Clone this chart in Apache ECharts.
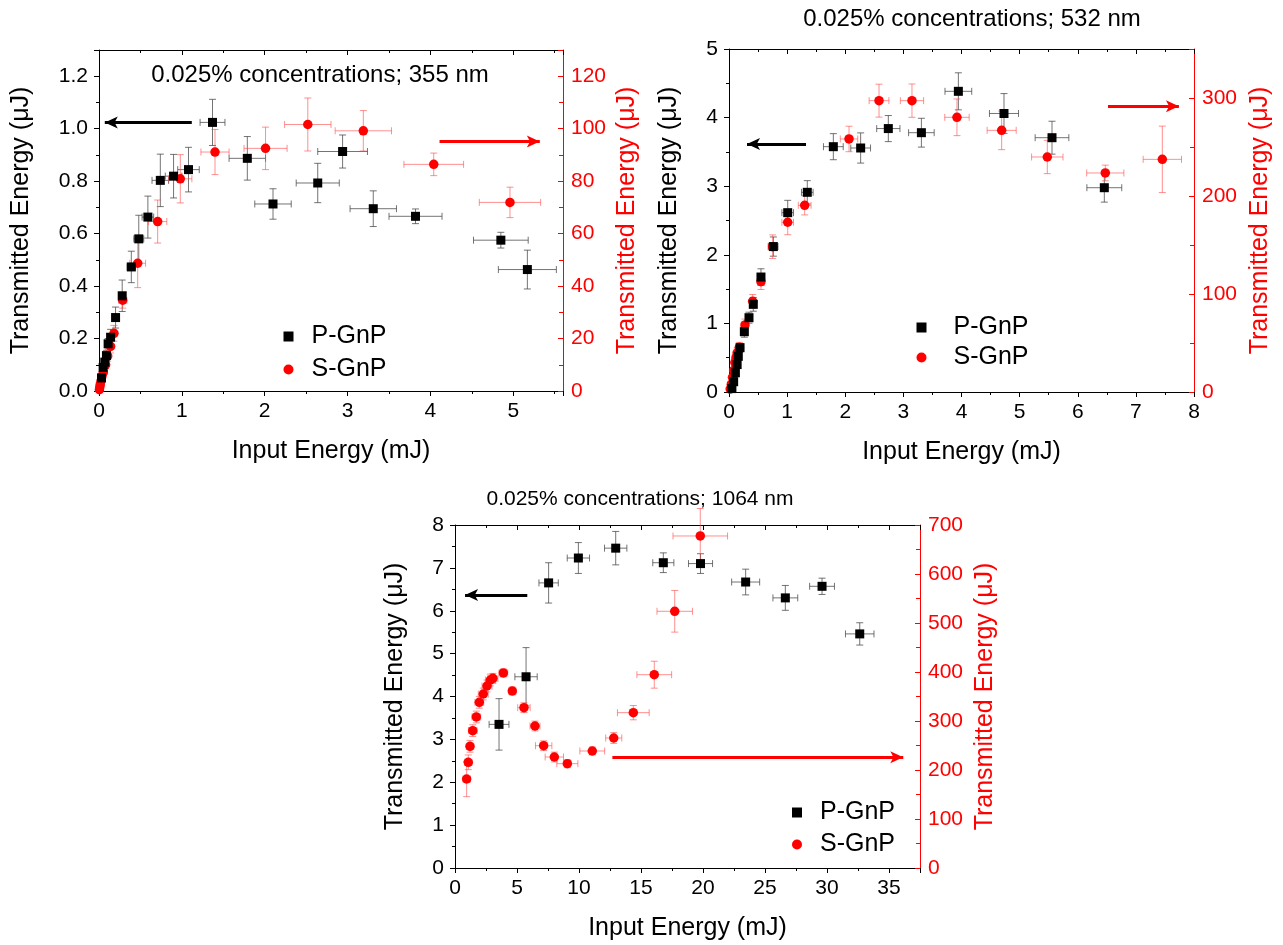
<!DOCTYPE html>
<html>
<head>
<meta charset="utf-8">
<script src="https://cdn.jsdelivr.net/npm/echarts@6/dist/echarts.min.js"></script>
</head>
<body style="margin:0;background:#fff;">
<div id="chart" style="width:1283px;height:945px;"></div>
<script>
// each point: [input energy (mJ), transmitted energy, x error, y error]
var p355 = [[0.03,0.05,0.01,0.01],[0.05,0.09,0.01,0.01],[0.07,0.11,0.01,0.015],[0.09,0.135,0.015,0.02],
	[0.11,0.18,0.02,0.02],[0.14,0.205,0.02,0.03],[0.2,0.28,0.03,0.04],[0.28,0.363,0.04,0.06],
	[0.39,0.473,0.05,0.06],[0.48,0.58,0.06,0.09],[0.59,0.663,0.07,0.08],[0.74,0.803,0.1,0.1],
	[0.9,0.819,0.1,0.083],[1.08,0.844,0.13,0.085],[1.37,1.024,0.15,0.088],[1.79,0.887,0.22,0.083],
	[2.1,0.713,0.22,0.058],[2.64,0.793,0.26,0.075],[2.94,0.913,0.3,0.063],[3.31,0.695,0.28,0.068],
	[3.82,0.666,0.32,0.028],[4.85,0.575,0.33,0.03],[5.17,0.463,0.35,0.074]];
var s355 = [[0.005,0.5,0.002,0.3],[0.01,1.5,0.003,0.5],[0.015,2.5,0.004,0.6],[0.024,3.8,0.005,0.8],
	[0.035,5.5,0.006,1],[0.052,7.1,0.008,1.2],[0.08,10,0.01,1.5],[0.105,13.3,0.015,2],
	[0.14,17,0.02,2.5],[0.181,22,0.03,3],[0.286,34.6,0.05,3],[0.467,48.7,0.095,9.3],
	[0.708,64.6,0.11,8.2],[0.981,80.9,0.14,9.2],[1.4,91.1,0.17,8.6],[2.01,92.5,0.26,8.1],
	[2.52,101.6,0.28,10.1],[3.19,99.2,0.34,7.7],[4.04,86.4,0.36,4.3],[4.96,71.9,0.37,5.8]];

var p532 = [[0.05,0.05,0.01,0.02],[0.08,0.15,0.01,0.03],[0.11,0.28,0.015,0.04],[0.14,0.4,0.02,0.04],
	[0.16,0.52,0.02,0.05],[0.19,0.646,0.03,0.06],[0.264,0.879,0.04,0.08],[0.344,1.083,0.04,0.08],
	[0.418,1.278,0.05,0.1],[0.55,1.676,0.06,0.12],[0.763,2.12,0.08,0.14],[1.01,2.614,0.1,0.18],
	[1.347,2.911,0.1,0.17],[1.795,3.576,0.17,0.19],[2.265,3.557,0.17,0.22],[2.741,3.84,0.2,0.19],
	[3.31,3.78,0.22,0.21],[3.946,4.383,0.23,0.27],[4.731,4.06,0.25,0.29],[5.557,3.707,0.29,0.24],
	[6.457,2.978,0.3,0.21]];
var s532 = [[0.02,3,0.005,1],[0.04,8,0.008,2],[0.06,15,0.01,3],[0.08,22,0.012,3],[0.1,30,0.015,4],
	[0.12,35,0.02,4],[0.14,40,0.02,5],[0.178,45.6,0.03,5],[0.275,68.4,0.04,6],[0.407,92.5,0.05,7],
	[0.55,112.6,0.06,8],[0.751,148.3,0.08,12],[1.01,173.2,0.1,12.7],[1.302,190.5,0.11,9.8],
	[2.065,258.2,0.15,13],[2.581,297.3,0.17,16.8],[3.148,297.3,0.2,17],[3.922,280.3,0.21,18.7],
	[4.691,267,0.25,19.7],[5.476,239.8,0.27,17],[6.474,223.5,0.32,8],[7.455,237.4,0.33,33.9]];

var p1064 = [[3.55,3.35,0.8,0.6],[5.73,4.46,0.9,0.68],[7.55,6.65,0.78,0.47],[9.95,7.23,0.9,0.36],
	[12.96,7.46,0.9,0.39],[16.8,7.12,0.85,0.23],[19.8,7.1,0.97,0.23],[23.44,6.67,1.13,0.3],
	[26.64,6.3,1.0,0.29],[29.6,6.57,1.0,0.19],[32.64,5.46,1.15,0.26]];
var s1064 = [[0.94,181.6,0.3,36],[1.07,215.7,0.3,15],[1.21,248.4,0.3,12],[1.43,280.3,0.35,12],
	[1.72,308.2,0.35,12],[1.96,338.2,0.35,12],[2.28,355.1,0.4,12],[2.58,371.4,0.4,12],
	[2.85,383.7,0.4,12],[3.06,387.1,0.4,10],[3.9,398,0.35,8],[4.62,361.2,0.3,8],
	[5.56,327.2,0.5,10],[6.45,289.8,0.4,10],[7.15,249.6,0.66,10],[8.01,226.5,0.74,10],
	[9.06,212.9,0.85,8],[11.07,238.8,1.0,8],[12.8,265.3,0.65,11],[14.38,317,1.28,14.6],
	[16.07,394.5,1.4,27.5],[17.72,523.9,1.43,42.5],[19.78,677.6,2.2,56]];

var titles = ['0.025% concentrations; 355 nm', '0.025% concentrations; 532 nm', '0.025% concentrations; 1064 nm'];

// axis ranges per panel
var xMax = [5.6, 8, 37.5], xStep = [1, 1, 5];
var yMax = [1.3, 5, 8], yStep = [0.2, 1, 1];
var rMax = [130, 350, 700], rStep = [20, 100, 100];

// arrows: [x1, x2, y] in data units
var blackArrows = [[1.12, 0.07, 1.024], [1.325, 0.31, 3.615], [5.83, 0.81, 6.37]];
var redArrows = [[4.11, 5.32, 95.1], [6.52, 7.74, 291.5], [12.69, 36.15, 226]];

var font = 'Liberation Sans, Arial, sans-serif';
var red = '#ff0000';

var grids = [
	{left: 99, top: 50, width: 464, height: 341},
	{left: 729, top: 49, width: 465, height: 343},
	{left: 455, top: 525, width: 465, height: 343}
];
var leftGap = [65, 47, 47], rightGap = [52, 54, 53];

function errBar(color) {
	return function (params, api) {
		var x = api.value(0), y = api.value(1), dx = api.value(2), dy = api.value(3);
		var l = api.coord([x - dx, y]), r = api.coord([x + dx, y]);
		var t = api.coord([x, y + dy]), b = api.coord([x, y - dy]);
		var c = 3.5;
		var st = {stroke: color, lineWidth: 1};
		return {
			type: 'group',
			children: [
				{type: 'line', shape: {x1: l[0], y1: l[1], x2: r[0], y2: r[1]}, style: st},
				{type: 'line', shape: {x1: t[0], y1: t[1], x2: b[0], y2: b[1]}, style: st},
				{type: 'line', shape: {x1: l[0], y1: l[1] - c, x2: l[0], y2: l[1] + c}, style: st},
				{type: 'line', shape: {x1: r[0], y1: r[1] - c, x2: r[0], y2: r[1] + c}, style: st},
				{type: 'line', shape: {x1: t[0] - c, y1: t[1], x2: t[0] + c, y2: t[1]}, style: st},
				{type: 'line', shape: {x1: b[0] - c, y1: b[1], x2: b[0] + c, y2: b[1]}, style: st}
			]
		};
	};
}

var xAxis = [], yAxis = [], series = [], title = [];
var pData = [p355, p532, p1064], sData = [s355, s532, s1064];

for (var i = 0; i < 3; i++) {
	xAxis.push({
		type: 'value', gridIndex: i, min: 0, max: xMax[i], interval: xStep[i],
		name: 'Input Energy (mJ)', nameLocation: 'middle', nameGap: 48,
		nameTextStyle: {fontSize: 25, color: '#000', fontFamily: font},
		axisLine: {onZero: false, lineStyle: {color: '#000', width: 1}},
		axisTick: {length: 5, lineStyle: {color: '#000'}},
		minorTick: {show: true, splitNumber: 2, length: 3, lineStyle: {color: '#000'}},
		axisLabel: {fontSize: 21, color: '#000', fontFamily: font, margin: 10, showMaxLabel: i === 1},
		splitLine: {show: false}
	});
	xAxis.push({
		type: 'value', gridIndex: i, position: 'top', min: 0, max: xMax[i], interval: xStep[i],
		axisLine: {onZero: false, lineStyle: {color: '#000', width: 1}},
		axisTick: {inside: true, length: 5, lineStyle: {color: '#000'}},
		minorTick: {show: true, splitNumber: 2, length: 3, lineStyle: {color: '#000'}},
		axisLabel: {show: false}, splitLine: {show: false}
	});
	yAxis.push({
		type: 'value', gridIndex: i, position: 'left', min: 0, max: yMax[i], interval: yStep[i],
		name: 'Transmitted Energy (\u03bcJ)', nameLocation: 'middle', nameGap: leftGap[i],
		nameTextStyle: {fontSize: 25, color: '#000', fontFamily: font},
		axisLine: {show: true, lineStyle: {color: '#000', width: 1}},
		axisTick: {length: 5, lineStyle: {color: '#000'}},
		minorTick: {show: true, splitNumber: 2, length: 3, lineStyle: {color: '#000'}},
		axisLabel: {fontSize: 21, color: '#000', fontFamily: font, margin: 11, showMaxLabel: i !== 0,
			formatter: i === 0 ? function (v) { return v.toFixed(1); } : null},
		splitLine: {show: false}
	});
	yAxis.push({
		type: 'value', gridIndex: i, position: 'right', offset: 0, min: 0, max: yMax[i], interval: yStep[i],
		axisLine: {show: false},
		axisTick: {inside: true, length: 5, lineStyle: {color: '#000'}},
		minorTick: {show: true, splitNumber: 2, length: 3, lineStyle: {color: '#000'}},
		axisLabel: {show: false}, splitLine: {show: false}
	});
	yAxis.push({
		type: 'value', gridIndex: i, position: 'right', offset: 0, min: 0, max: rMax[i], interval: rStep[i],
		name: 'Transmitted Energy (\u03bcJ)', nameLocation: 'middle', nameGap: rightGap[i],
		nameTextStyle: {fontSize: 25, color: red, fontFamily: font},
		axisLine: {show: true, lineStyle: {color: red, width: 1}},
		axisTick: {inside: true, length: 5, lineStyle: {color: red}},
		minorTick: {show: true, splitNumber: 2, length: 4, lineStyle: {color: red}},
		axisLabel: {fontSize: 21, color: red, fontFamily: font, margin: 8, showMaxLabel: i === 2},
		splitLine: {show: false}
	});

	series.push({
		type: 'custom', name: 'perr' + i, xAxisIndex: 2 * i, yAxisIndex: 3 * i, z: 1,
		renderItem: errBar('rgba(70,70,70,0.75)'), encode: {x: 0, y: 1}, data: pData[i]
	});
	series.push({
		type: 'custom', name: 'serr' + i, xAxisIndex: 2 * i, yAxisIndex: 3 * i + 2, z: 1,
		renderItem: errBar('rgba(255,70,70,0.6)'), encode: {x: 0, y: 1}, data: sData[i]
	});
	series.push({
		type: 'scatter', name: 'P-GnP', xAxisIndex: 2 * i, yAxisIndex: 3 * i, z: 3,
		symbol: 'rect', symbolSize: 9, itemStyle: {color: '#000', opacity: 1},
		data: pData[i],
		markLine: {
			silent: true, symbol: ['none', 'arrow'], symbolSize: [9, 13], animation: false,
			label: {show: false}, lineStyle: {color: '#000', width: 3, type: 'solid'},
			data: [[{coord: [blackArrows[i][0], blackArrows[i][2]]}, {coord: [blackArrows[i][1], blackArrows[i][2]]}]]
		}
	});
	series.push({
		type: 'scatter', name: 'S-GnP', xAxisIndex: 2 * i, yAxisIndex: 3 * i + 2, z: 2,
		symbol: 'circle', symbolSize: 9.5, itemStyle: {color: red, opacity: 1},
		data: sData[i],
		markLine: {
			silent: true, symbol: ['none', 'arrow'], symbolSize: [9, 13], animation: false,
			label: {show: false}, lineStyle: {color: red, width: 3, type: 'solid'},
			data: [[{coord: [redArrows[i][0], redArrows[i][2]]}, {coord: [redArrows[i][1], redArrows[i][2]]}]]
		}
	});
}

title = [
	{text: titles[0], left: 320, top: 63, textAlign: 'center', padding: 0},
	{text: titles[1], left: 972, top: 7, textAlign: 'center', padding: 0},
	{text: titles[2], left: 640, top: 489, textAlign: 'center', padding: 0, textStyle: {fontSize: 21}}
];
title.forEach(function (t) {
	t.textStyle = Object.assign({fontSize: 24, fontWeight: 'normal', color: '#000', fontFamily: font}, t.textStyle || {});
});

function legendAt(left, top, gap, pad) {
	return {
		orient: 'vertical', left: left, top: top, itemGap: gap, padding: 0,
		itemWidth: 10, itemHeight: 10, selectedMode: false,
		textStyle: {fontSize: 25, color: '#000', fontFamily: font, padding: [0, 0, 0, pad]},
		data: [{name: 'P-GnP', icon: 'rect'}, {name: 'S-GnP', icon: 'circle'}]
	};
}

var chart = echarts.init(document.getElementById('chart'));
chart.setOption({
	animation: false,
	backgroundColor: '#fff',
	textStyle: {fontFamily: font},
	grid: grids.map(function (g) { g.outerBoundsMode = 'none'; return g; }),
	title: title,
	legend: [legendAt(283.5, 324, 8, 13), legendAt(916.5, 315, 5, 22), legendAt(792, 800, 7, 13)],
	xAxis: xAxis,
	yAxis: yAxis,
	series: series
});
</script>
</body>
</html>
